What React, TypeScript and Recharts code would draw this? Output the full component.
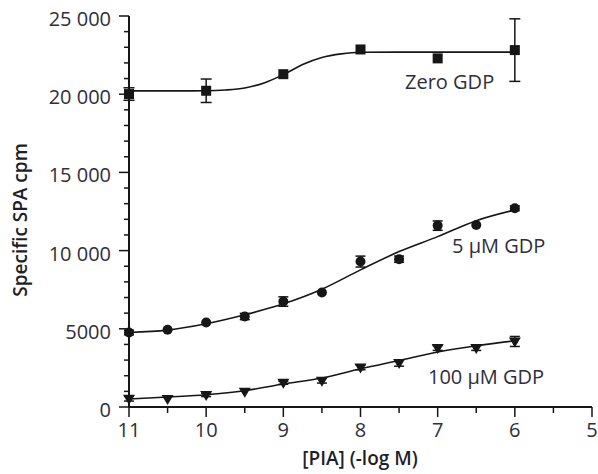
import { ComposedChart, XAxis, YAxis, Line, Scatter, ErrorBar } from 'recharts';

const ZERO_PIA = [11, 10, 9, 8, 7, 6];
const ZERO_CPM = [20010, 20220, 21280, 22860, 22290, 22820];
const ZERO_ERR = [400, 750, 0, 0, 0, 2000];

const PIA = [11, 10.5, 10, 9.5, 9, 8.5, 8, 7.5, 7, 6.5, 6];
const GDP5_CPM = [4765, 4936, 5402, 5785, 6743, 7318, 9298, 9451, 11597, 11641, 12708];
const GDP5_ERR = [150, 0, 0, 200, 300, 0, 350, 200, 300, 0, 150];
const GDP100_CPM = [530, 510, 766, 977, 1552, 1680, 2530, 2810, 3768, 3768, 4190];
const GDP100_ERR = [150, 0, 100, 0, 100, 150, 150, 200, 150, 150, 320];

// fitted curves
const ZERO_FIT_PIA = [11, 10.5, 10, 9.75, 9.5, 9.25, 9, 8.75, 8.5, 8.25, 8, 7.5, 7, 6.5, 6];
const ZERO_FIT = [20210, 20210, 20220, 20270, 20400, 20720, 21250, 21900, 22350, 22580, 22680, 22690, 22690, 22690, 22690];
const GDP5_FIT = [4765, 4915, 5319, 5894, 6596, 7532, 8768, 9936, 10894, 11916, 12600];
const GDP100_FIT = [510, 639, 785, 1041, 1469, 1852, 2446, 2976, 3512, 3915, 4234];

const X_TICKS = [11, 10.5, 10, 9.5, 9, 8.5, 8, 7.5, 7, 6.5, 6, 5.5, 5];
const Y_TICKS = [
  0, 1000, 2000, 3000, 4000, 5000, 6000, 7000, 8000, 9000, 10000, 11000, 12000,
  13000, 14000, 15000, 16000, 17000, 18000, 19000, 20000, 21000, 22000, 23000, 24000, 25000,
];

const INK = '#161616';
const TEXT = '#2e2e3c';
const FONT = '"Open Sans", sans-serif';

const fmtCpm = (v: number) => (v >= 10000 ? `${v / 1000} 000` : String(v));

const rows = (xs: number[], ys: number[], errs?: number[]) =>
  xs.map((x, i) => ({ pia: x, cpm: ys[i], err: errs ? errs[i] : 0 }));

const zeroPts = rows(ZERO_PIA, ZERO_CPM, ZERO_ERR);
const gdp5Pts = rows(PIA, GDP5_CPM, GDP5_ERR);
const gdp100Pts = rows(PIA, GDP100_CPM, GDP100_ERR);
const zeroFit = rows(ZERO_FIT_PIA, ZERO_FIT);
const gdp5Fit = rows(PIA, GDP5_FIT);
const gdp100Fit = rows(PIA, GDP100_FIT);

const LeftTick = (p: any) => {
  const major = p.payload.value % 5000 === 0;
  const len = major ? 10 : 5;
  return (
    <g>
      <line x1={p.x - len} x2={p.x} y1={p.y} y2={p.y} stroke={INK} strokeWidth={1.5} />
      {major && (
        <text x={p.x - 18} y={p.y + 10} textAnchor="end" fill={TEXT} fontSize={20} fontFamily={FONT}>
          {fmtCpm(p.payload.value)}
        </text>
      )}
    </g>
  );
};

const RightTick = (p: any) => {
  const major = p.payload.value % 5000 === 0;
  return <line x1={p.x} x2={p.x + (major ? 6 : 5)} y1={p.y} y2={p.y} stroke={INK} strokeWidth={1.5} />;
};

const BottomTick = (p: any) => {
  const major = Number.isInteger(p.payload.value);
  return (
    <g>
      <line x1={p.x} x2={p.x} y1={p.y} y2={p.y + (major ? 10 : 6)} stroke={INK} strokeWidth={1.5} />
      {major && (
        <text x={p.x} y={p.y + 30} textAnchor="middle" fill={TEXT} fontSize={20} fontFamily={FONT}>
          {p.payload.value}
        </text>
      )}
    </g>
  );
};

const TopTick = (p: any) => {
  const major = Number.isInteger(p.payload.value);
  return <line x1={p.x} x2={p.x} y1={p.y - (major ? 10 : 6)} y2={p.y} stroke={INK} strokeWidth={1.5} />;
};

const Square = (p: any) => <rect x={p.cx - 5} y={p.cy - 5} width={10} height={10} fill={INK} />;
const Dot = (p: any) => <circle cx={p.cx} cy={p.cy} r={5} fill={INK} />;
const DownTri = (p: any) => (
  <path d={`M${p.cx - 6},${p.cy - 4} L${p.cx + 6},${p.cy - 4} L${p.cx},${p.cy + 6} Z`} fill={INK} />
);

const axisLine = { stroke: INK, strokeWidth: 2 };

export default function App() {
  return (
    <div style={{ position: 'relative', width: 598, height: 474, background: '#fff' }}>
      <style>{'body{margin:0}'}</style>
      <ComposedChart width={598} height={474} margin={{ top: 16, right: 6, bottom: 0, left: 0 }}>
        <XAxis
          dataKey="pia"
          type="number"
          domain={[5, 11]}
          reversed
          ticks={X_TICKS}
          interval={0}
          height={67}
          tickSize={0}
          tickMargin={0}
          tickLine={false}
          axisLine={axisLine}
          tick={BottomTick}
        />
        <XAxis
          xAxisId="top"
          orientation="top"
          dataKey="pia"
          type="number"
          domain={[5, 11]}
          reversed
          ticks={X_TICKS}
          interval={0}
          height={0}
          tickSize={0}
          tickMargin={0}
          tickLine={false}
          axisLine={axisLine}
          tick={TopTick}
        />
        <YAxis
          type="number"
          domain={[0, 25000]}
          ticks={Y_TICKS}
          interval={0}
          width={129}
          tickSize={0}
          tickMargin={0}
          tickLine={false}
          axisLine={axisLine}
          tick={LeftTick}
        />
        <YAxis
          yAxisId="right"
          orientation="right"
          type="number"
          domain={[0, 25000]}
          ticks={Y_TICKS}
          interval={0}
          width={0}
          tickSize={0}
          tickMargin={0}
          tickLine={false}
          axisLine={axisLine}
          tick={RightTick}
        />

        <Line data={zeroFit} dataKey="cpm" type="monotone" dot={false} stroke={INK} strokeWidth={1.6} isAnimationActive={false} />
        <Line data={gdp5Fit} dataKey="cpm" type="monotone" dot={false} stroke={INK} strokeWidth={1.6} isAnimationActive={false} />
        <Line data={gdp100Fit} dataKey="cpm" type="monotone" dot={false} stroke={INK} strokeWidth={1.6} isAnimationActive={false} />

        <Scatter data={zeroPts} dataKey="cpm" shape={Square} isAnimationActive={false}>
          <ErrorBar dataKey="err" direction="y" width={5.5} stroke={INK} strokeWidth={1.5} />
        </Scatter>
        <Scatter data={gdp5Pts} dataKey="cpm" shape={Dot} isAnimationActive={false}>
          <ErrorBar dataKey="err" direction="y" width={5} stroke={INK} strokeWidth={1.5} />
        </Scatter>
        <Scatter data={gdp100Pts} dataKey="cpm" shape={DownTri} isAnimationActive={false}>
          <ErrorBar dataKey="err" direction="y" width={5} stroke={INK} strokeWidth={1.5} />
        </Scatter>
      </ComposedChart>

      <svg width={598} height={474} style={{ position: 'absolute', left: 0, top: 0, pointerEvents: 'none' }}>
        <g fontFamily={FONT} fill={TEXT} fontSize={20}>
          <text x={405} y={89}>Zero GDP</text>
          <text x={452} y={253}>5 µM GDP</text>
          <text x={428} y={384}>100 µM GDP</text>
        </g>
        <text x={360} y={465} textAnchor="middle" fontFamily={FONT} fontSize={19} fontWeight={600} fill="#1e1e2a">
          [PIA] (-log M)
        </text>
        <text
          transform="translate(27,220) rotate(-90)"
          textAnchor="middle"
          fontFamily={FONT}
          fontSize={19}
          fontWeight={600}
          fill="#1e1e2a"
        >
          Specific SPA cpm
        </text>
      </svg>
    </div>
  );
}
